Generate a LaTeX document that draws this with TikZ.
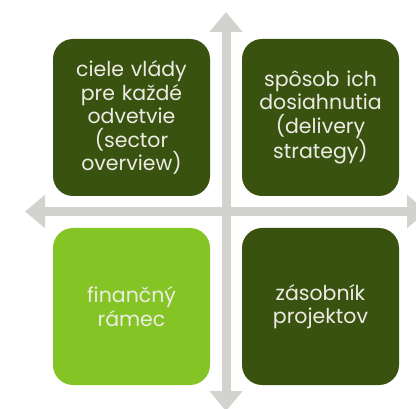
\documentclass[tikz,border=0pt]{standalone}
\usepackage{fontspec}
\setmainfont{Poppins}
\usetikzlibrary{arrows.meta}

\definecolor{darkolive}{HTML}{3A5210}
\definecolor{limegreen}{HTML}{85C425}
\definecolor{crossgray}{HTML}{D2D3CF}
\definecolor{paletext}{HTML}{ECECE4}

\begin{document}
\begin{tikzpicture}[x=1pt,y=1pt,
  tile/.style={rounded corners=20pt,minimum width=157pt,minimum height=157pt,
    text width=150pt,align=center,text=paletext,font=\fontsize{20.5}{23.5}\selectfont},
  crossarrow/.style={crossgray,line width=9pt,
    {Triangle[length=20pt,width=32pt]}-{Triangle[length=20pt,width=32pt]}}]
  \useasboundingbox (0,0) rectangle (416,408);
  \fill[white] (0,0) rectangle (416,408);

  \coordinate (west) at (25,196.5);
  \coordinate (east) at (427,196.5);
  \coordinate (north) at (226,396);
  \coordinate (south) at (226,-3);
  \draw[crossarrow] (west) -- (east);
  \draw[crossarrow] (south) -- (north);

  \node[tile,fill=darkolive] (goals) at (131.5,290.5) {ciele vlády\\pre každé\\odvetvie\\(sector\\overview)};
  \node[tile,fill=darkolive] (delivery) at (320.5,290.5) {spôsob ich\\dosiahnutia\\(delivery\\strategy)};
  \node[tile,fill=limegreen] (finance) at (131.5,101.5) {finančný\\rámec};
  \node[tile,fill=darkolive] (pipeline) at (320.5,101.5) {zásobník\\projektov};
\end{tikzpicture}
\end{document}
